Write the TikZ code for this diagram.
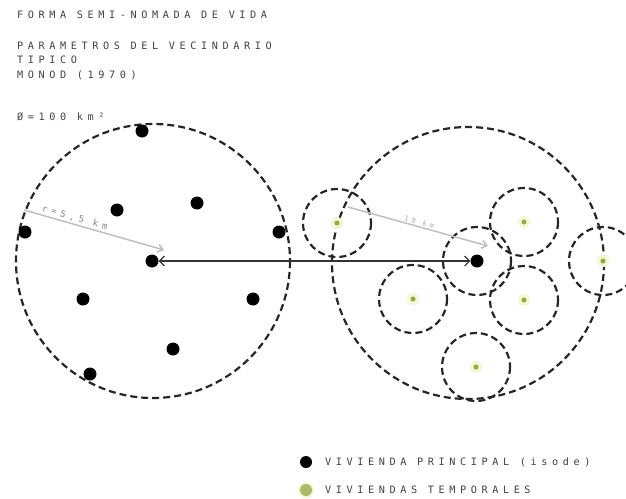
\documentclass[tikz,border=0pt]{standalone}
\usepackage{fontspec}
\newfontfamily\techfont[LetterSpace=45]{DejaVu Sans Mono}
\usetikzlibrary{arrows.meta}
\definecolor{txtgray}{RGB}{65,65,65}
\definecolor{tempgreen}{RGB}{150,168,70}
\definecolor{glow}{RGB}{243,247,212}
\begin{document}
\begin{tikzpicture}[x=1pt,y=-1pt,
  zone/.style={draw=black!85, line width=2.2pt, dash pattern=on 7pt off 4pt},
  subzone/.style={draw=black!85, line width=2.2pt, dash pattern=on 7pt off 4pt},
  maindot/.style={circle, fill=black, inner sep=0pt, minimum size=13pt},
  tempdot/.style={circle, fill=tempgreen, inner sep=0pt, minimum size=5pt},
  legdot/.style={circle, fill=tempgreen!80, inner sep=0pt, minimum size=12pt},
  label/.style={anchor=west, inner sep=0pt, text=txtgray, font=\techfont\fontsize{10.2}{12}\selectfont},
  radarrow/.style={draw=black!25, line width=1.5pt, -{Straight Barb[length=5pt,width=8pt]}},
  linkarrow/.style={draw=black!80, line width=1.1pt, {Straight Barb[length=5pt,width=10pt]}-{Straight Barb[length=5pt,width=10pt]}}
]
\useasboundingbox (0,0) rectangle (626,498);
% titles
\node[label] (t1) at (17,15) {FORMA SEMI-NOMADA DE VIDA};
\node[label] (t2) at (17,46) {PARAMETROS DEL VECINDARIO};
\node[label] (t3) at (17,60) {TIPICO};
\node[label] (t4) at (17,75) {MONOD (1970)};
\node[label] (t5) at (17,117) {Ø=100 km²};
% left territory
\coordinate (L) at (153,261);
\draw[zone] (L) circle [radius=137];
\foreach \n/\x/\y in {a/142/131,b/117/210,c/197/203,d/25/232,e/279/232,f/83/299,g/253/299,h/173/349,i/90/374}
  \node[maindot] (l\n) at (\x,\y) {};
\node[maindot] (lc) at (152,261) {};
% right territory
\coordinate (R) at (468,263);
\draw[zone] (R) circle [radius=136];
\foreach \n/\x/\y in {a/337/223,b/524/222,c/524/300,d/413/299,e/476/367,f/603/261}{
  \fill[glow] (\x,\y) circle [radius=6];
  \node[tempdot] (r\n) at (\x,\y) {};
  \draw[subzone] (r\n) circle [radius=34];
}
\node[maindot] (rc) at (477,261) {};
\draw[subzone] (rc) circle [radius=34];
% radius arrows
\coordinate (lr0) at (24,210);
\coordinate (lr1) at (164,250);
\draw[radarrow] (lr0) -- (lr1) node[pos=0.35, above=1.5pt, sloped, inner sep=0pt, text=txtgray!65, font=\techfont\fontsize{9}{10}\selectfont] (lrl) {r=5,5 km};
\coordinate (rr0) at (348,207);
\coordinate (rr1) at (488,246);
\draw[radarrow] (rr0) -- (rr1) node[pos=0.5, above=1.5pt, sloped, inner sep=0pt, text=txtgray!45, font=\techfont\fontsize{7}{8}\selectfont] (rrl) {18 km};
% link
\draw[linkarrow] (lc) -- (rc);
% legend
\node[maindot, minimum size=12pt] (k1) at (306,462) {};
\node[label] (k1t) at (325,462) {VIVIENDA PRINCIPAL (isode)};
\fill[glow] (306,490) circle [radius=8];
\node[legdot] (k2) at (306,490) {};
\node[label] (k2t) at (325,490) {VIVIENDAS TEMPORALES};
\end{tikzpicture}
\end{document}
